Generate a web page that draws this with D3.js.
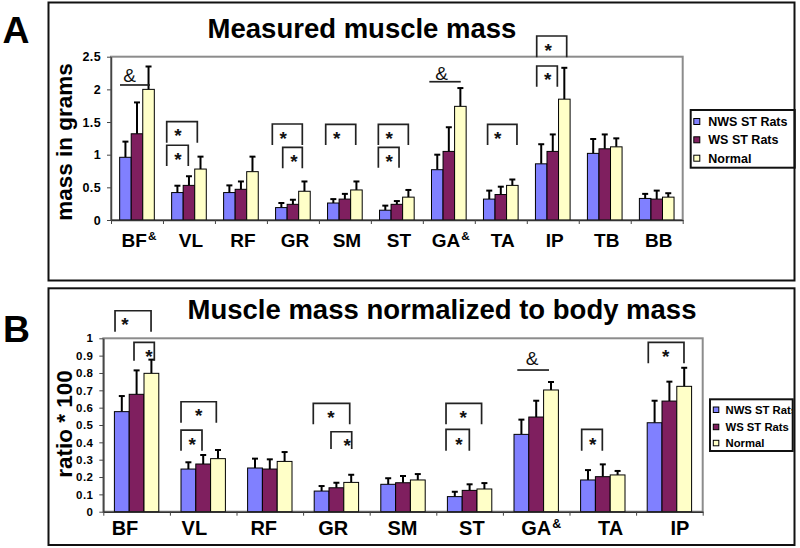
<!DOCTYPE html>
<html><head><meta charset="utf-8">
<script src="https://cdn.jsdelivr.net/npm/d3@7"></script>
<style>
html,body{margin:0;padding:0;background:#fff;}
svg{display:block;font-family:"Liberation Sans",Arial,sans-serif;}
</style></head>
<body>
<svg id="chart" width="800" height="548"></svg>
<script>
// ---------- data ----------
const seriesNames = ["NWS ST Rats", "WS ST Rats", "Normal"];
const seriesColors = ["#8080ff", "#7f1f5f", "#ffffc8"];

// Panel A: measured muscle mass (grams)
const categoriesA = ["BF&", "VL", "RF", "GR", "SM", "ST", "GA&", "TA", "IP", "TB", "BB"];
const nwsA   = [0.96, 0.42, 0.42, 0.19, 0.26, 0.15, 0.77, 0.32, 0.86, 1.02, 0.33];
const nwsSdA = [0.24, 0.105, 0.11, 0.07, 0.06, 0.07, 0.23, 0.13, 0.30, 0.22, 0.07];
const wsA    = [1.32, 0.53, 0.47, 0.24, 0.32, 0.24, 1.05, 0.39, 1.05, 1.09, 0.32];
const wsSdA  = [0.48, 0.14, 0.12, 0.07, 0.08, 0.05, 0.37, 0.12, 0.26, 0.22, 0.13];
const normA  = [2.00, 0.78, 0.74, 0.44, 0.46, 0.35, 1.74, 0.53, 1.85, 1.12, 0.35];
const normSdA= [0.35, 0.19, 0.23, 0.15, 0.13, 0.11, 0.28, 0.09, 0.48, 0.13, 0.06];
const ticksA = [0, 0.5, 1, 1.5, 2, 2.5];
const tickLabelsA = ["0", "0.5", "1", "1.5", "2", "2.5"];

// Panel B: normalized to body mass (ratio * 100)
const categoriesB = ["BF", "VL", "RF", "GR", "SM", "ST", "GA&", "TA", "IP"];
const nwsB   = [0.577, 0.246, 0.252, 0.119, 0.158, 0.087, 0.446, 0.183, 0.513];
const nwsSdB = [0.090, 0.039, 0.054, 0.029, 0.035, 0.028, 0.085, 0.057, 0.127];
const wsB    = [0.677, 0.275, 0.246, 0.138, 0.167, 0.123, 0.546, 0.202, 0.638];
const wsSdB  = [0.138, 0.052, 0.056, 0.029, 0.039, 0.035, 0.094, 0.071, 0.112];
const normB  = [0.798, 0.306, 0.290, 0.169, 0.183, 0.131, 0.702, 0.212, 0.723];
const normSdB= [0.079, 0.050, 0.054, 0.044, 0.034, 0.034, 0.046, 0.023, 0.107];
const ticksB = [0, 0.1, 0.2, 0.3, 0.4, 0.5, 0.6, 0.7, 0.8, 0.9, 1];
const tickLabelsB = ["0", "0.1", "0.2", "0.3", "0.4", "0.5", "0.6", "0.7", "0.8", "0.9", "1"];

// significance annotations (x in category units, y in data units)
const bracketsA = [
  [1.072, 1.661, 1.505, 1.183, 1.289, 1.353],
  [1.072, 1.487, 1.144, 0.827, 1.289, 0.991],
  [3.104, 3.681, 1.470, 1.148, 3.315, 1.317],
  [3.304, 3.681, 1.113, 0.791, 3.521, 0.960],
  [4.131, 4.709, 1.465, 1.148, 4.343, 1.317],
  [5.144, 5.721, 1.465, 1.148, 5.355, 1.317],
  [5.144, 5.542, 1.113, 0.801, 5.355, 0.960],
  [7.246, 7.811, 1.465, 1.148, 7.441, 1.317],
  [8.191, 8.768, 2.817, 2.491, 8.414, 2.664],
  [8.191, 8.588, 2.358, 2.041, 8.403, 2.220]
];
const ampA = [
  [0.173, 0.750, 2.067, 0.360, 2.224],
  [6.125, 6.729, 2.117, 6.363, 2.255]
];
const bracketsB = [
  [0.176, 0.717, 1.159, 1.038, 0.326, 1.105],
  [0.461, 0.766, 0.977, 0.871, 0.686, 0.917],
  [1.167, 1.697, 0.634, 0.513, 1.432, 0.577],
  [1.167, 1.482, 0.471, 0.352, 1.336, 0.413],
  [3.153, 3.700, 0.625, 0.504, 3.419, 0.567],
  [3.419, 3.730, 0.461, 0.362, 3.664, 0.404],
  [5.146, 5.680, 0.625, 0.504, 5.405, 0.567],
  [5.146, 5.496, 0.475, 0.352, 5.341, 0.413],
  [7.183, 7.493, 0.475, 0.352, 7.348, 0.413],
  [8.183, 8.719, 0.977, 0.856, 8.444, 0.919]
];
const ampB = [
  [6.216, 6.692, 0.817, 6.437, 0.885]
];

// ---------- drawing ----------
const svg = d3.select("#chart");

function drawPanel(o) {
  const g = svg.append("g");
  g.append("rect").attr("x", o.box[0]).attr("y", o.box[1]).attr("width", o.box[2]).attr("height", o.box[3])
    .attr("fill", "none").attr("stroke", "#111").attr("stroke-width", 2);
  g.append("text").attr("x", o.letterPos[0]).attr("y", o.letterPos[1])
    .attr("font-size", 36).attr("font-weight", "bold").attr("fill", "#000")
    .attr("textLength", 27).attr("lengthAdjust", "spacingAndGlyphs").text(o.letter);
  g.append("text").attr("x", o.titlePos[0]).attr("y", o.titlePos[1]).attr("text-anchor", "middle")
    .attr("font-size", 27.5).attr("font-weight", "bold").attr("fill", "#000").text(o.title);

  const n = o.cats.length;
  const x = d3.scaleBand().domain(d3.range(n)).range([o.L, o.R]).padding(0);
  const xu = d3.scaleLinear().domain([0, n]).range([o.L, o.R]);
  const bw = x.bandwidth();
  const inner = d3.scaleBand().domain([0, 1, 2]).range([bw / 6, bw * 5 / 6]).padding(0);
  const y = d3.scaleLinear().domain([0, o.ymax]).range([o.B, o.T]);

  g.append("rect").attr("x", o.L).attr("y", o.T).attr("width", o.R - o.L).attr("height", o.B - o.T)
    .attr("fill", "none").attr("stroke", "#8c8c8c").attr("stroke-width", 2);

  o.series.forEach((vals, s) => {
    const sd = o.sds[s];
    const bars = g.append("g");
    vals.forEach((v, i) => {
      const bx = x(i) + inner(s);
      const bwid = inner.bandwidth();
      const cx = bx + bwid / 2;
      bars.append("line").attr("x1", cx).attr("x2", cx).attr("y1", y(v)).attr("y2", y(v + sd[i]))
        .attr("stroke", "#000").attr("stroke-width", 2);
      bars.append("line").attr("x1", cx - 3).attr("x2", cx + 3).attr("y1", y(v + sd[i])).attr("y2", y(v + sd[i]))
        .attr("stroke", "#000").attr("stroke-width", 2);
      bars.append("rect").attr("x", bx).attr("y", y(v)).attr("width", bwid).attr("height", o.B - y(v))
        .attr("fill", seriesColors[s]).attr("stroke", "#000").attr("stroke-width", 1);
    });
  });

  const ya = g.append("g").attr("transform", `translate(${o.L},0)`)
    .call(d3.axisLeft(y).tickValues(o.ticks).tickSize(4).tickSizeOuter(0).tickPadding(6)
      .tickFormat((d, i) => o.tickLabels[i]));
  ya.select(".domain").attr("stroke", "#444").attr("stroke-width", 1.5);
  ya.selectAll(".tick line").attr("stroke", "#444");
  ya.selectAll(".tick text").attr("font-size", o.tickFont).attr("font-weight", "bold").attr("fill", "#000")
    .attr("letter-spacing", 0.4).style("font-family", '"Liberation Sans",Arial,sans-serif');

  const xa = g.append("g").attr("transform", `translate(0,${o.B})`)
    .call(d3.axisBottom(xu).tickValues(d3.range(n + 1)).tickSize(4).tickSizeOuter(0).tickFormat(""));
  xa.select(".domain").attr("stroke", "#333").attr("stroke-width", 1.5);
  xa.selectAll(".tick line").attr("stroke", "#444");

  o.cats.forEach((c, i) => {
    const amp = c.endsWith("&");
    const base = amp ? c.slice(0, -1) : c;
    const t = g.append("text").attr("x", o.labelX(i)).attr("y", o.labelY).attr("text-anchor", "middle")
      .attr("font-size", o.labelFont).attr("font-weight", "bold").attr("fill", "#000");
    t.append("tspan").text(base);
    if (amp) {
      t.append("tspan").attr("font-size", o.labelFont * 0.62).attr("dy", -o.labelFont * 0.33).attr("dx", 1).text("&");
    }
  });

  g.append("text").attr("transform", `translate(${o.ytitlePos[0]},${o.ytitlePos[1]}) rotate(-90)`)
    .attr("text-anchor", "middle").attr("font-size", 22.5).attr("font-weight", "bold").attr("fill", "#000")
    .text(o.ytitle);

  const ann = g.append("g");
  o.brackets.forEach(b => {
    ann.append("path")
      .attr("d", `M${xu(b[0])},${y(b[3])}V${y(b[2])}H${xu(b[1])}V${y(b[3])}`)
      .attr("fill", "none").attr("stroke", "#222").attr("stroke-width", 1.7);
    ann.append("text").attr("x", xu(b[4])).attr("y", y(b[5])).attr("dy", "0.56em")
      .attr("text-anchor", "middle").attr("font-size", 19).attr("font-weight", "bold").attr("fill", "#111").text("*");
  });
  o.amps.forEach(a => {
    ann.append("line").attr("x1", xu(a[0])).attr("x2", xu(a[1])).attr("y1", y(a[2])).attr("y2", y(a[2]))
      .attr("stroke", "#222").attr("stroke-width", 1.7);
    ann.append("text").attr("x", xu(a[3])).attr("y", y(a[4])).attr("dy", "0.36em")
      .attr("text-anchor", "middle").attr("font-size", 19).attr("fill", "#111").text("&");
  });

  const lg = g.append("g");
  const lb = o.legendBox;
  const clipId = "clip" + o.letter;
  svg.append("clipPath").attr("id", clipId).append("rect")
    .attr("x", lb[0]).attr("y", lb[1]).attr("width", lb[2]).attr("height", lb[3]);
  const li = lg.append("g").attr("clip-path", `url(#${clipId})`);
  seriesNames.forEach((name, s) => {
    const by = o.legendBase[s];
    li.append("rect").attr("x", o.legendSq[0]).attr("y", by - o.legendSq[1] - 1.5)
      .attr("width", o.legendSq[1]).attr("height", o.legendSq[1])
      .attr("fill", seriesColors[s]).attr("stroke", "#000").attr("stroke-width", 1);
    li.append("text").attr("x", o.legendTextX).attr("y", by).attr("font-size", o.legendFont)
      .attr("font-weight", "bold").attr("fill", "#000").text(name);
  });
  lg.append("rect").attr("x", lb[0]).attr("y", lb[1]).attr("width", lb[2]).attr("height", lb[3])
    .attr("fill", "none").attr("stroke", "#111").attr("stroke-width", 2);
}

// Panel A
(function () {
  const L = 111, R = 682.7;
  const xb = d3.scaleBand().domain(d3.range(categoriesA.length)).range([L, R]);
  drawPanel({
    letter: "A", letterPos: [2.5, 42.7], title: "Measured muscle mass", titlePos: [362, 37.5],
    box: [48.5, 2.5, 746, 278],
    L: L, R: R, T: 56.7, B: 220, ymax: 2.5,
    cats: categoriesA, series: [nwsA, wsA, normA], sds: [nwsSdA, wsSdA, normSdA],
    ticks: ticksA, tickLabels: tickLabelsA, tickFont: 12.5,
    labelX: i => xb(i) + xb.bandwidth() / 2 + 2, labelY: 246.7, labelFont: 19,
    ytitle: "mass in grams", ytitlePos: [72, 142],
    brackets: bracketsA, amps: ampA,
    legendBox: [690.7, 110, 104, 57.7], legendSq: [693.8, 6], legendTextX: 708.3,
    legendBase: [126, 144.3, 162.7], legendFont: 12.5
  });
})();

// Panel B
(function () {
  const labelScale = d3.scalePoint().domain(d3.range(categoriesB.length)).range([125, 680]);
  drawPanel({
    letter: "B", letterPos: [3, 341.7], title: "Muscle mass normalized to body mass", titlePos: [442, 319.3],
    box: [48.5, 288.3, 746, 256.7],
    L: 103.3, R: 702.7, T: 338.3, B: 511.7, ymax: 1,
    cats: categoriesB, series: [nwsB, wsB, normB], sds: [nwsSdB, wsSdB, normSdB],
    ticks: ticksB, tickLabels: tickLabelsB, tickFont: 11.5,
    labelX: i => labelScale(i), labelY: 535, labelFont: 20,
    ytitle: "ratio * 100", ytitlePos: [72, 424],
    brackets: bracketsB, amps: ampB,
    legendBox: [710, 399.3, 82.7, 51.7], legendSq: [713.3, 5.5], legendTextX: 725.5,
    legendBase: [414, 431.2, 447.3], legendFont: 11.3
  });
})();
</script>
</body></html>
